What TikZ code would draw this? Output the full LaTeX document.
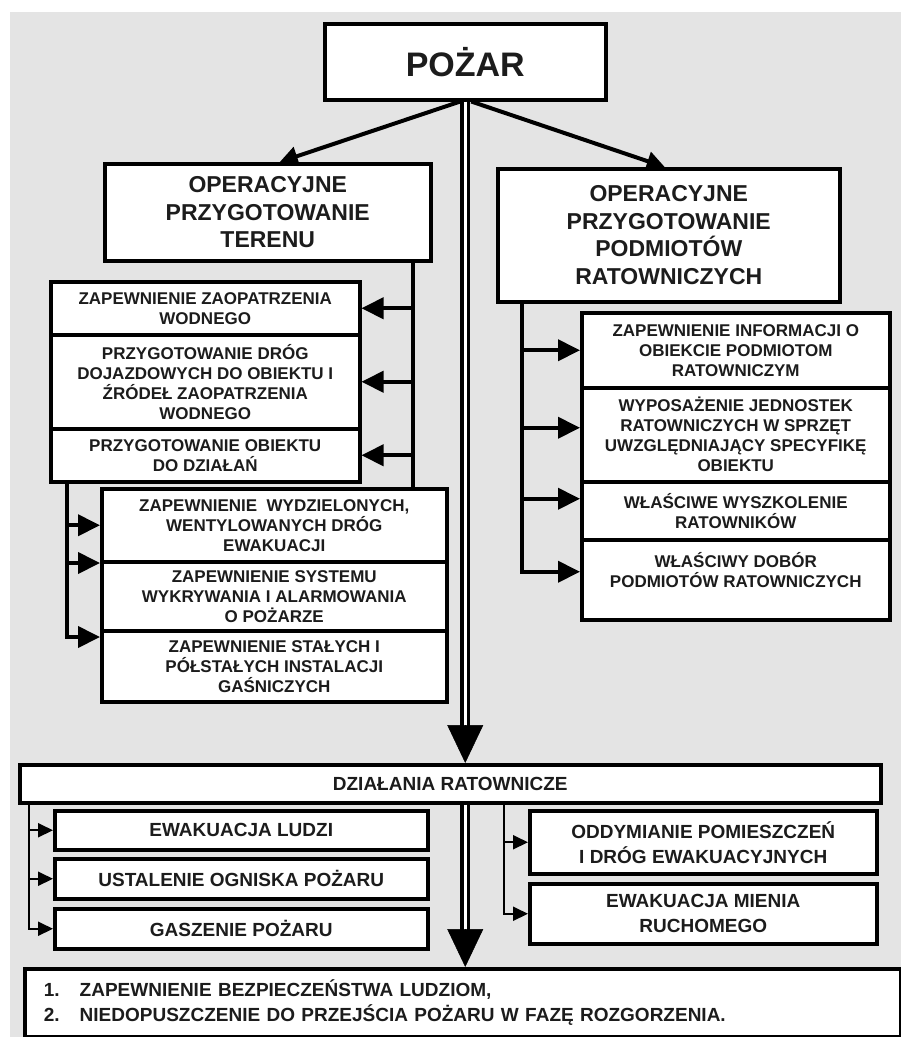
\documentclass[tikz,border=0pt]{standalone}
\usepackage{fontspec}
\setmainfont{Liberation Sans}
\usetikzlibrary{arrows.meta,calc,positioning}
\definecolor{paper}{RGB}{228,228,228}
\definecolor{ink}{RGB}{28,28,28}
\tikzset{
  line cap=round,
  line join=round,
  box/.style={draw=black, fill=white, line width=3.5pt, align=center, inner sep=0pt,
    text=ink, font=\bfseries\fontsize{17}{20}\selectfont},
  bigbox/.style={box, font=\bfseries\fontsize{23}{27.5}\selectfont},
  midbox/.style={box, font=\bfseries\fontsize{19}{25}\selectfont},
  link/.style={-{Triangle[length=22pt,width=21pt]}, line width=4pt},
  toplink/.style={-{Triangle[length=18pt,width=19pt]}, line width=4pt},
  thinlink/.style={-{Triangle[length=15pt,width=14pt]}, line width=2pt},
  trunk/.style={line width=4pt},
  shaft/.style={double=white, double distance=3pt, line width=3.5pt, line cap=butt},
  bighead/.style={-{Triangle[length=38pt,width=36pt]}, line width=0.5pt}
}

\begin{document}
\begin{tikzpicture}[x=1pt, y=-1pt]
  \useasboundingbox (0,0) rectangle (901,1037);
  \fill[white] (0,0) rectangle (901,1037);
  \fill[paper] (10,12) rectangle (901,1037);

  % top
  \node[box, anchor=north west, minimum width=281pt, minimum height=76pt,
    font=\bfseries\fontsize{34}{40}\selectfont] (pozar) at (323,22) {POŻAR};
  \node[bigbox, anchor=north west, minimum width=326pt, minimum height=97pt] (teren) at (103,162)
    {OPERACYJNE\\PRZYGOTOWANIE\\TERENU};
  \node[bigbox, anchor=north west, minimum width=342pt, minimum height=133pt] (podm) at (496,167)
    {OPERACYJNE\\PRZYGOTOWANIE\\PODMIOTÓW\\RATOWNICZYCH};

  % teren
  \node[box, anchor=north west, minimum width=309pt, minimum height=53pt] (sA) at (49,280)
    {ZAPEWNIENIE ZAOPATRZENIA\\WODNEGO};
  \node[box, anchor=north west, minimum width=309pt, minimum height=94pt] (sB) at (49,333)
    {PRZYGOTOWANIE DRÓG\\DOJAZDOWYCH DO OBIEKTU I\\ŹRÓDEŁ ZAOPATRZENIA\\WODNEGO};
  \node[box, anchor=north west, minimum width=309pt, minimum height=53pt] (sC) at (49,427)
    {PRZYGOTOWANIE OBIEKTU\\DO DZIAŁAŃ};
  \node[box, anchor=north west, minimum width=345pt, minimum height=73pt] (sD) at (100,487)
    {ZAPEWNIENIE\ \ WYDZIELONYCH,\\WENTYLOWANYCH DRÓG\\EWAKUACJI};
  \node[box, anchor=north west, minimum width=345pt, minimum height=69pt] (sE) at (100,560)
    {ZAPEWNIENIE SYSTEMU\\WYKRYWANIA I ALARMOWANIA\\O POŻARZE};
  \node[box, anchor=north west, minimum width=345pt, minimum height=71pt] (sF) at (100,629)
    {ZAPEWNIENIE STAŁYCH I\\PÓŁSTAŁYCH INSTALACJI\\GAŚNICZYCH};

  % podmioty
  \node[box, anchor=north west, minimum width=308pt, minimum height=75pt] (sG) at (580,311)
    {ZAPEWNIENIE INFORMACJI O\\OBIEKCIE PODMIOTOM\\RATOWNICZYM};
  \node[box, anchor=north west, minimum width=308pt, minimum height=94pt] (sH) at (580,386)
    {WYPOSAŻENIE JEDNOSTEK\\RATOWNICZYCH W SPRZĘT\\UWZGLĘDNIAJĄCY SPECYFIKĘ\\OBIEKTU};
  \node[box, anchor=north west, minimum width=308pt, minimum height=58pt] (sI) at (580,480)
    {WŁAŚCIWE WYSZKOLENIE\\RATOWNIKÓW};
  \node[box, anchor=north west, minimum width=308pt, minimum height=80pt] (sJ) at (580,538)
    {WŁAŚCIWY DOBÓR\\PODMIOTÓW RATOWNICZYCH\\\mbox{}};

  % dzialania
  \node[midbox, anchor=north west, minimum width=861pt, minimum height=38pt] (dz) at (18,763)
    {DZIAŁANIA RATOWNICZE};
  \node[midbox, anchor=north west, minimum width=373pt, minimum height=39pt] (bL1) at (53,809)
    {EWAKUACJA LUDZI};
  \node[midbox, anchor=north west, minimum width=373pt, minimum height=40pt] (bL2) at (53,857)
    {USTALENIE OGNISKA POŻARU};
  \node[midbox, anchor=north west, minimum width=373pt, minimum height=40pt] (bL3) at (53,907)
    {GASZENIE POŻARU};
  \node[midbox, anchor=north west, minimum width=347pt, minimum height=63pt] (bR1) at (528,809)
    {ODDYMIANIE POMIESZCZEŃ\\I DRÓG EWAKUACYJNYCH};
  \node[midbox, anchor=north west, minimum width=347pt, minimum height=60pt] (bR2) at (528,882)
    {EWAKUACJA MIENIA\\RUCHOMEGO};
  \node[midbox, anchor=north west, minimum height=68pt, text width=838pt, inner xsep=19pt,
    align=left] (cel) at (23,967)
    {\makebox[36pt][l]{1.}ZAPEWNIENIE BEZPIECZEŃSTWA LUDZIOM,\\
     \makebox[36pt][l]{2.}NIEDOPUSZCZENIE DO PRZEJŚCIA POŻARU W FAZĘ ROZGORZENIA.};

  % main shaft
  \coordinate (tip1) at (pozar.south |- dz.north);
  \coordinate (tip2) at (pozar.south |- cel.north);
  \draw[shaft] (pozar.south) -- ([yshift=37pt]tip1);
  \draw[bighead] ([yshift=38pt]tip1) -- (tip1);
  \draw[shaft] (pozar.south |- dz.south) -- ([yshift=37pt]tip2);
  \draw[bighead] ([yshift=38pt]tip2) -- (tip2);

  \draw[toplink] ([xshift=-5pt]pozar.south) -- ([xshift=12pt]teren.north);
  \draw[toplink] ([xshift=6pt]pozar.south) -- ([xshift=-4pt]podm.north);

  % teren branches
  \coordinate (tL) at ([xshift=145pt]teren.south);
  \draw[trunk] (tL) -- (tL |- sD.north);
  \foreach \n in {sA,sB,sC}
    \draw[link] (tL |- \n.east) -- (\n.east);
  \coordinate (tC) at ([xshift=18pt]sC.south west);
  \draw[link] (tC |- sD.west) -- (sD.west);
  \draw[link] (tC |- sE.north west) ++(0,3) -- ([yshift=-3pt]sE.north west);
  \draw[link] (tC) |- ([yshift=-8pt]sF.north west);

  % podmioty branches
  \coordinate (tR) at ([xshift=26pt]podm.south west);
  \draw[link] (tR |- sG.west) -- (sG.west);
  \draw[link] (tR |- sH.west) ++(0,-7) -- ([yshift=7pt]sH.west);
  \draw[link] (tR |- sI.west) ++(0,-12) -- ([yshift=12pt]sI.west);
  \draw[link] (tR) |- ([yshift=8pt]sJ.west);

  % dzialania branches
  \coordinate (tD) at ([xshift=11pt]dz.south west);
  \draw[thinlink] (tD |- bL1.west) -- (bL1.west);
  \draw[thinlink] (tD |- bL2.west) -- (bL2.west);
  \draw[thinlink] (tD) |- (bL3.west);
  \coordinate (tE) at ([xshift=486pt]dz.south west);
  \draw[thinlink] (tE |- bR1.west) -- (bR1.west);
  \draw[thinlink] (tE) |- (bR2.west);
\end{tikzpicture}
\end{document}
